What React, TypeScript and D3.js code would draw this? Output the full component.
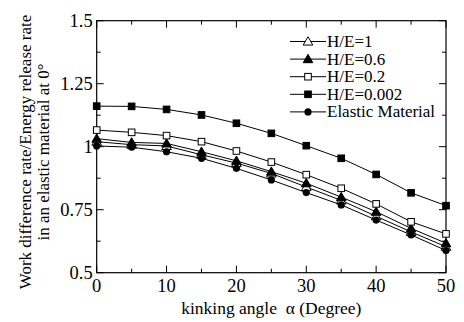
import * as d3 from "d3";

const width = 464;
const height = 322;
const margin = { top: 20.7, right: 18, bottom: 49.3, left: 96.7 };

const angles = [0, 5, 10, 15, 20, 25, 30, 35, 40, 45, 50];
const he1 = [1.02, 1.008, 1.003, 0.968, 0.935, 0.894, 0.84, 0.787, 0.724, 0.662, 0.603];
const he06 = [1.032, 1.017, 1.013, 0.98, 0.944, 0.901, 0.855, 0.8, 0.742, 0.676, 0.617];
const he02 = [1.066, 1.057, 1.044, 1.02, 0.983, 0.939, 0.889, 0.835, 0.773, 0.702, 0.654];
const he0002 = [1.161, 1.16, 1.148, 1.126, 1.093, 1.053, 1.004, 0.954, 0.89, 0.817, 0.766];
const elastic = [1.003, 0.998, 0.98, 0.954, 0.914, 0.868, 0.818, 0.769, 0.709, 0.65, 0.588];

const yTicks = [0.5, 0.75, 1, 1.25, 1.5];
const yTickLabels = ["0.5", "0.75", "1", "1.25", "1.5"];
const yMinor = [0.625, 0.875, 1.125, 1.375];
const xTicks = [0, 10, 20, 30, 40, 50];
const xMinor = [5, 15, 25, 35, 45];

type Marker = "triOpen" | "triFilled" | "sqOpen" | "sqFilled" | "circle";

const series: { name: string; values: number[]; marker: Marker }[] = [
  { name: "H/E=1", values: he1, marker: "triOpen" },
  { name: "H/E=0.6", values: he06, marker: "triFilled" },
  { name: "H/E=0.2", values: he02, marker: "sqOpen" },
  { name: "H/E=0.002", values: he0002, marker: "sqFilled" },
  { name: "Elastic Material", values: elastic, marker: "circle" },
];

const textStyle = { fontFamily: "Liberation Serif" };

function MarkerShape({ type, x, y }: { type: Marker; x: number; y: number }) {
  if (type === "circle") {
    return <circle cx={x} cy={y} r={3.6} fill="#000" />;
  }
  if (type === "sqOpen" || type === "sqFilled") {
    const s = 6.6;
    return (
      <rect
        x={x - s / 2}
        y={y - s / 2}
        width={s}
        height={s}
        fill={type === "sqFilled" ? "#000" : "#fff"}
        stroke="#000"
        strokeWidth={1}
      />
    );
  }
  const tri = d3.symbol(d3.symbolTriangle, 40)() ?? "";
  return (
    <path
      d={tri}
      transform={`translate(${x},${y + 0.8})`}
      fill={type === "triFilled" ? "#000" : "#fff"}
      stroke="#000"
      strokeWidth={1}
    />
  );
}

export default function App() {
  const x = d3
    .scaleLinear()
    .domain([0, 50])
    .range([margin.left, width - margin.right]);
  const y = d3
    .scaleLinear()
    .domain([0.5, 1.5])
    .range([height - margin.bottom, margin.top]);

  const line = d3
    .line<number>()
    .x((_, i) => x(angles[i]))
    .y((d) => y(d));

  const [x0, x1] = x.range();
  const [yb, yt] = y.range();
  const major = 7;
  const minor = 4;

  const legendX = 290;
  const legendY = 41.5;
  const legendStep = 17.6;

  return (
    <svg
      width={width}
      height={height}
      style={{ position: "absolute", left: 0, top: 0, background: "#fff" }}
    >
      <rect x={0} y={0} width={width} height={height} fill="#fff" />

      {/* frame */}
      <rect x={x0} y={yt} width={x1 - x0} height={yb - yt} fill="none" stroke="#000" strokeWidth={1.2} />

      {/* y ticks */}
      {yTicks.map((t) => (
        <g key={`y${t}`}>
          <line x1={x0} x2={x0 + major} y1={y(t)} y2={y(t)} stroke="#000" />
          <line x1={x1} x2={x1 - major} y1={y(t)} y2={y(t)} stroke="#000" />
        </g>
      ))}
      {yMinor.map((t) => (
        <g key={`ym${t}`}>
          <line x1={x0} x2={x0 + minor} y1={y(t)} y2={y(t)} stroke="#000" />
          <line x1={x1} x2={x1 - minor} y1={y(t)} y2={y(t)} stroke="#000" />
        </g>
      ))}
      {yTicks.map((t, i) => (
        <text key={`yl${t}`} x={x0 - 4} y={y(t) + 6} textAnchor="end" fontSize={18.5} style={textStyle}>
          {yTickLabels[i]}
        </text>
      ))}

      {/* x ticks */}
      {xTicks.map((t) => (
        <g key={`x${t}`}>
          <line x1={x(t)} x2={x(t)} y1={yb} y2={yb - major} stroke="#000" />
          <line x1={x(t)} x2={x(t)} y1={yt} y2={yt + major} stroke="#000" />
          <text x={x(t)} y={yb + 19} textAnchor="middle" fontSize={18.5} style={textStyle}>
            {t}
          </text>
        </g>
      ))}
      {xMinor.map((t) => (
        <g key={`xm${t}`}>
          <line x1={x(t)} x2={x(t)} y1={yb} y2={yb - minor} stroke="#000" />
          <line x1={x(t)} x2={x(t)} y1={yt} y2={yt + minor} stroke="#000" />
        </g>
      ))}

      {/* axis titles */}
      <text x={(x0 + x1) / 2} y={314} textAnchor="middle" fontSize={17.5} style={textStyle}>
        kinking angle {"\u00a0"}α (Degree)
      </text>
      <g transform="translate(31,152) rotate(-90)">
        <text x={0} y={0} textAnchor="middle" fontSize={17} style={textStyle}>
          Work difference rate/Energy release rate
        </text>
        <text x={0} y={17.5} textAnchor="middle" fontSize={17} style={textStyle}>
          in an elastic material at 0°
        </text>
      </g>

      {/* series */}
      {series.map((s) => (
        <g key={s.name}>
          <path d={line(s.values) ?? ""} fill="none" stroke="#000" strokeWidth={1} />
          {s.values.map((v, i) => (
            <MarkerShape key={i} type={s.marker} x={x(angles[i])} y={y(v)} />
          ))}
        </g>
      ))}

      {/* legend */}
      {series.map((s, i) => {
        const ly = legendY + i * legendStep;
        return (
          <g key={`lg${s.name}`}>
            <line x1={legendX} x2={legendX + 36} y1={ly} y2={ly} stroke="#000" />
            <MarkerShape type={s.marker} x={legendX + 18} y={ly} />
            <text x={legendX + 37} y={ly + 5.5} fontSize={17} style={textStyle}>
              {s.name}
            </text>
          </g>
        );
      })}
    </svg>
  );
}
